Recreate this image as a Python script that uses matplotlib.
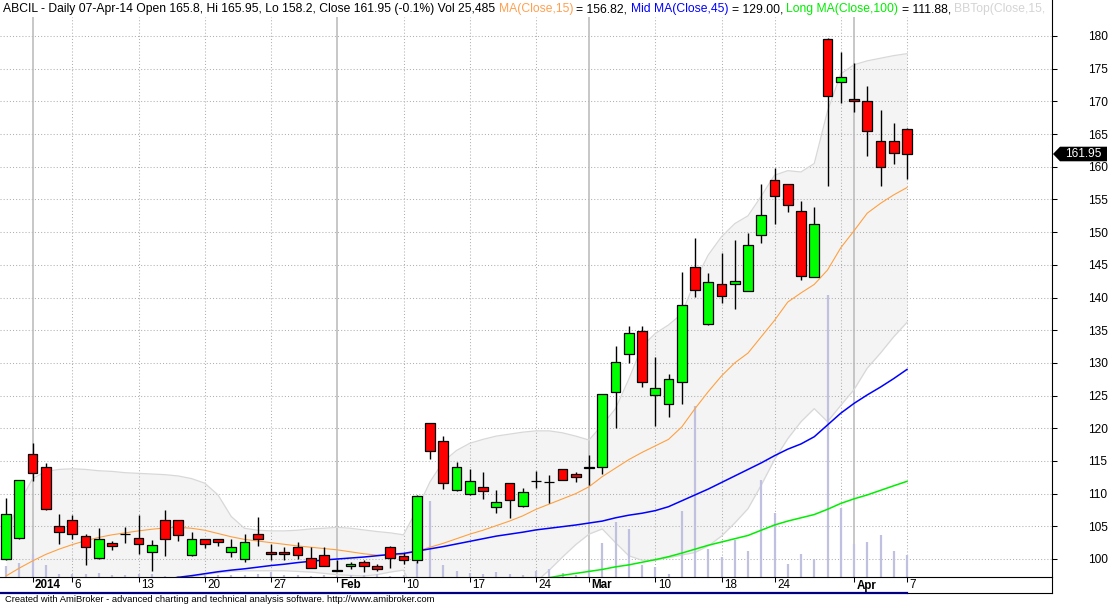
import matplotlib
matplotlib.use('Agg')
import matplotlib.pyplot as plt
import matplotlib.transforms as mtransforms
from matplotlib.patches import Polygon, Rectangle
from matplotlib.lines import Line2D
import numpy as np

plt.rcParams['font.family'] = ['Liberation Sans', 'DejaVu Sans']

# ---------------- data ----------------
dates = ['2013-12-30', '2013-12-31', '2014-01-01', '2014-01-02', '2014-01-03',
         '2014-01-06', '2014-01-07', '2014-01-08', '2014-01-09', '2014-01-10',
         '2014-01-13', '2014-01-14', '2014-01-15', '2014-01-16', '2014-01-17',
         '2014-01-20', '2014-01-21', '2014-01-22', '2014-01-23', '2014-01-24',
         '2014-01-27', '2014-01-28', '2014-01-29', '2014-01-30', '2014-01-31',
         '2014-02-03', '2014-02-04', '2014-02-05', '2014-02-06', '2014-02-07',
         '2014-02-10', '2014-02-11', '2014-02-12', '2014-02-13', '2014-02-14',
         '2014-02-17', '2014-02-18', '2014-02-19', '2014-02-20', '2014-02-21',
         '2014-02-24', '2014-02-25', '2014-02-26', '2014-02-28',
         '2014-03-03', '2014-03-04', '2014-03-05', '2014-03-06', '2014-03-07',
         '2014-03-10', '2014-03-11', '2014-03-12', '2014-03-13', '2014-03-14',
         '2014-03-18', '2014-03-19', '2014-03-20', '2014-03-21',
         '2014-03-24', '2014-03-25', '2014-03-26', '2014-03-27', '2014-03-28',
         '2014-03-31', '2014-04-01', '2014-04-02', '2014-04-03', '2014-04-04',
         '2014-04-07']

opens = [100.0, 103.2, 116.05, 114.05, 105.05, 105.95, 103.45, 100.1, 102.4, 103.9,
         103.2, 101.0, 105.9, 105.9, 100.55, 103.0, 103.0, 101.0, 99.95, 103.9,
         101.0, 101.0, 101.9, 100.1, 100.55, 98.25, 98.93, 99.5, 98.93, 101.9,
         100.4, 99.8, 120.75, 118.0, 110.5, 109.9, 110.95, 107.9, 111.55, 108.05,
         111.9, 111.75, 113.7, 112.95, 114.0, 114.0, 125.5, 131.3, 134.95, 125.1,
         123.65, 127.0, 144.6, 135.9, 142.0, 142.0, 141.05, 149.5, 157.9, 157.3,
         153.2, 143.2, 179.6, 172.9, 170.3, 170.0, 164.0, 163.9, 165.8]
highs = [109.3, 112.1, 117.7, 114.7, 106.9, 106.7, 103.8, 104.7, 102.8, 104.95,
         106.7, 102.9, 107.5, 105.95, 104.1, 103.05, 103.05, 103.0, 103.8, 106.4,
         102.25, 101.8, 102.6, 101.8, 101.8, 99.85, 99.6, 99.85, 99.24, 101.95,
         100.85, 109.75, 120.8, 118.8, 114.8, 113.8, 113.35, 110.55, 111.6, 110.85,
         113.45, 112.85, 113.75, 113.35, 115.9, 125.3, 132.55, 135.7, 135.7, 130.95,
         128.3, 143.9, 149.1, 143.8, 146.8, 148.8, 149.9, 157.3, 159.8, 157.35,
         154.7, 153.8, 179.65, 177.5, 175.8, 172.4, 168.65, 166.7, 165.95]
lows = [99.9, 103.1, 111.95, 107.55, 102.3, 103.0, 99.1, 100.05, 101.4, 102.5,
        100.7, 98.1, 100.5, 102.8, 100.5, 101.7, 102.0, 100.35, 99.6, 102.0,
        99.85, 99.85, 100.05, 98.6, 98.9, 98.15, 98.4, 98.05, 98.2, 98.65,
        99.25, 99.4, 115.35, 110.75, 110.45, 109.85, 109.2, 107.1, 106.2, 108.0,
        110.9, 108.6, 112.05, 111.8, 111.3, 113.0, 120.1, 130.0, 126.25, 120.4,
        121.75, 123.7, 140.1, 135.85, 139.2, 138.2, 141.0, 148.3, 151.2, 153.1,
        142.75, 143.15, 157.1, 169.8, 168.3, 161.7, 157.1, 160.4, 158.2]
closes = [106.85, 112.05, 113.1, 107.6, 104.2, 103.9, 101.8, 103.0, 102.05, 103.9,
          102.25, 102.1, 103.0, 103.6, 103.0, 102.25, 102.55, 101.9, 102.55, 103.0,
          100.7, 100.7, 100.55, 98.6, 98.9, 98.15, 99.24, 98.9, 98.4, 100.1,
          99.8, 109.7, 116.45, 111.7, 114.1, 112.0, 110.35, 108.65, 108.95, 110.2,
          111.9, 111.75, 112.1, 112.6, 113.9, 125.3, 130.2, 134.5, 127.1, 126.1,
          127.6, 138.9, 141.2, 142.3, 140.3, 142.6, 148.1, 152.55, 155.6, 154.1,
          143.3, 151.3, 170.75, 173.8, 170.0, 165.4, 159.9, 162.1, 161.95]
volumes = [12900, 16300, 26300, 13700, 3100, 3400, 3400, 4900, 2600, 2600,
           3400, 3400, 1500, 1100, 1900, 2600, 2600, 2300, 2600, 3400,
           5700, 2300, 2300, 1500, 2300, 1500, 2300, 2300, 3400, 1100,
           2300, 17500, 86900, 13700, 6900, 4900, 3400, 5700, 3400, 2300,
           6900, 9100, 4200, 2300, 9100, 39200, 63200, 54900, 13700, 11800,
           3400, 75400, 195800, 31700, 23200, 42300, 29700, 110900, 73500, 14900,
           26300, 20600, 322300, 78500, 37700, 40000, 48000, 29700, 25485]
nan = float('nan')
ma15 = [97.4, 98.6, 99.7, 100.7, 101.5, 102.2, 102.8, 103.3, 103.7, 104.0,
        104.3, 104.55, 104.75, 104.85, 104.7, 104.4, 103.9, 103.4, 103.0, 102.75,
        102.5, 102.25, 102.0, 101.8, 101.6, 101.4, 101.1, 100.8, 100.6, 100.55,
        100.7, 101.2, 101.8, 102.4, 103.1, 103.8, 104.4, 105.1, 105.8, 106.6,
        107.6, 108.4, 109.2, 110.0, 111.05, 112.6, 113.9, 115.2, 116.3, 117.3,
        118.3, 120.2, 123.0, 125.6, 128.0, 130.0, 131.5, 134.0, 136.5, 139.3,
        140.7, 142.0, 144.2, 147.6, 150.2, 152.9, 154.4, 155.7, 156.82]
ma45 = [nan] * 12 + [
        96.9, 97.2, 97.45, 97.75, 98.05, 98.3, 98.5, 98.75,
        99.0, 99.2, 99.45, 99.65, 99.85, 100.0, 100.15, 100.3, 100.5, 100.7,
        100.85, 101.2, 101.55, 101.9, 102.3, 102.7, 103.1, 103.5, 103.8, 104.1,
        104.45, 104.7, 104.95, 105.2, 105.5, 105.8, 106.3, 106.7, 107.0, 107.4,
        108.0, 108.9, 109.8, 110.7, 111.7, 112.7, 113.7, 114.7, 115.8, 116.8,
        117.6, 118.7, 120.5, 122.3, 123.8, 125.1, 126.3, 127.6, 129.0]
ma100 = [nan] * 39 + [
         96.5,
         96.8, 97.15, 97.5, 97.8, 98.1, 98.4, 98.8, 99.1, 99.5, 99.9,
         100.35, 100.9, 101.5, 102.1, 102.6, 103.1, 103.6, 104.4, 105.2, 105.8,
         106.3, 106.8, 107.6, 108.5, 109.2, 109.8, 110.5, 111.2, 111.88]
bb_top = [104.0, 108.5, 112.3, 113.4, 113.7, 113.8, 113.7, 113.5, 113.4, 113.2,
          113.1, 113.0, 112.9, 112.7, 112.3, 111.6, 109.8, 106.5, 104.7, 104.4,
          104.3, 104.3, 104.4, 104.6, 104.7, 104.85, 104.7, 104.45, 104.2, 104.0,
          103.7, 107.5, 111.8, 114.9, 116.6, 117.7, 118.3, 118.8, 119.1, 119.4,
          119.6, 119.6, 119.3, 118.8, 118.2, 120.5, 123.0, 127.5, 132.5, 134.5,
          135.8, 137.5, 142.5, 146.5, 149.3, 151.3, 152.5, 155.5, 158.7, 159.4,
          159.2, 160.5, 168.5, 174.2, 175.6, 176.2, 176.6, 177.0, 177.3]
bb_bot = [90.5, 88.5, 87.7, 88.3, 89.7, 91.2, 92.7, 93.9, 94.6, 95.4,
          95.9, 96.4, 96.8, 97.0, 97.3, 97.6, 97.9, 98.1, 98.2, 98.2,
          98.2, 98.2, 98.1, 98.0, 97.8, 97.6, 97.5, 97.4, 97.6, 98.0,
          98.3, 94.0, 91.6, 89.8, 89.4, 89.7, 90.3, 91.2, 92.3, 93.6,
          96.5, 98.3, 100.3, 102.2, 103.8, 104.6, 102.5, 100.5, 99.8, 99.8,
          100.2, 100.6, 101.0, 102.0, 103.5, 105.5, 107.7, 111.3, 115.2, 118.4,
          121.0, 123.0, 121.0, 123.5, 125.9, 129.2, 131.5, 134.0, 136.2]

tick_idx = [2, 5, 10, 15, 20, 25, 30, 35, 40, 44, 49, 54, 58, 64, 68]
tick_lbl = ['2014', '6', '13', '20', '27', 'Feb', '10', '17', '24', 'Mar', '10', '18', '24', 'Apr', '7']
week_idx = [5, 10, 15, 20, 30, 35, 40, 49, 54, 58, 63, 68]
month_idx = [2, 25, 44, 64]
month_names = {'2014', 'Feb', 'Mar', 'Apr'}
yticks = list(range(100, 181, 5))

title_segs = [
    ('ABCIL - Daily 07-Apr-14 Open 165.8, Hi 165.95, Lo 158.2, Close 161.95 (-0.1%) Vol 25,485', '#000000'),
    ('MA(Close,15)', '#ffa050'),
    ('= 156.82,', '#000000'),
    ('Mid MA(Close,45)', '#0000ff'),
    ('= 129.00,', '#000000'),
    ('Long MA(Close,100)', '#00ee00'),
    ('= 111.88,', '#000000'),
    ('BBTop(Close,15,', '#d4d4d4'),
]
footer = 'Created with AmiBroker - advanced charting and technical analysis software. http://www.amibroker.com'

# ---------------- layout ----------------
W, H, DPI = 1113, 605, 100
fig = plt.figure(figsize=(W / DPI, H / DPI), dpi=DPI)
fig.patch.set_facecolor('white')
AX_L, AX_R, AX_T, AX_B = 0, 1052, 17, 577
rect = [AX_L / W, 1 - AX_B / H, (AX_R - AX_L) / W, (AX_B - AX_T) / H]
ax_bg = fig.add_axes(rect)
ax_vol = fig.add_axes(rect)
ax = fig.add_axes(rect)

n = len(closes)
x = np.arange(n)
PXB = 13.25
XL = -6 / PXB
XR = (AX_R - 6) / PXB
PPU = 6.5375
YMIN = 100 - (AX_B - 559) / PPU
YMAX = 100 + (559 - AX_T) / PPU

for a in (ax_bg, ax_vol, ax):
    a.set_xlim(XL, XR)
ax_bg.set_ylim(YMIN, YMAX)
ax.set_ylim(YMIN, YMAX)
VOL_PER_PX = 25485 / 22.3
ax_vol.set_ylim(0, (AX_B - AX_T) * VOL_PER_PX)

ax_bg.axis('off')
ax_vol.axis('off')
ax_vol.patch.set_alpha(0)
ax.patch.set_alpha(0)

# bands
ax_bg.fill_between(x, bb_bot, bb_top, color='#f4f4f4', lw=0, zorder=1)
ax_bg.plot(x, bb_top, color='#d8d8d8', lw=0.9, zorder=3)
ax_bg.plot(x, bb_bot, color='#d8d8d8', lw=0.9, zorder=3)

# grid
for yv in yticks:
    ax_bg.axhline(yv, color='#b0b0b0', lw=0.75, ls=(0, (1, 2)), zorder=2)
for i in week_idx:
    ax_bg.axvline(i, color='#b0b0b0', lw=0.75, ls=(0, (1, 2)), zorder=2)
for i in month_idx:
    ax_bg.axvline(i, color='#b8b8b8', lw=1.1, zorder=2)

# volume
ax_vol.vlines(x, 0, volumes, color='#c0c0e0', lw=1.6)

# moving averages
ax.plot(x, ma15, color='#ffa040', lw=0.8, zorder=3)
ax.plot(x, ma45, color='#0000ff', lw=1.1, zorder=3)
ax.plot(x, ma100, color='#00ee00', lw=1.1, zorder=3)

# candles
o = np.array(opens); c = np.array(closes)
ax.vlines(x, lows, highs, color='black', lw=1.0, zorder=5)
body_col = ['#00ff00' if cc > oo else '#ff0000' for oo, cc in zip(o, c)]
ax.bar(x, np.abs(c - o), bottom=np.minimum(o, c), width=0.72, color=body_col,
       edgecolor='black', linewidth=0.9, zorder=6)

# axes styling
for s in ('left', 'top', 'right'):
    ax.spines[s].set_visible(False)
ax.spines['bottom'].set_linewidth(0.8)
ax.yaxis.tick_right()
ax.set_yticks(yticks)
ax.set_yticklabels([str(v) for v in yticks])
ax.tick_params(axis='y', direction='out', length=3.8, width=0.75, pad=22.5,
               labelsize=8.6, colors='black')
ax.set_xticks(tick_idx)
ax.set_xticklabels([''] * len(tick_idx))
ax.tick_params(axis='x', direction='out', length=3.8, width=0.75)

blend_x = mtransforms.blended_transform_factory(ax.transData, fig.transFigure)
lbl_trans = mtransforms.offset_copy(blend_x, fig=fig, x=2.5, y=0, units='dots')
for i, lab in zip(tick_idx, tick_lbl):
    ax.text(i, 1 - 588.5 / H, lab, transform=lbl_trans, ha='left', va='baseline',
            fontsize=8.4, fontweight='bold' if lab in month_names else 'normal',
            clip_on=False)

# frame lines
fig.add_artist(Line2D([AX_R / W, AX_R / W], [1.0, 1 - 593 / H], color='black',
                      lw=0.8, transform=fig.transFigure))
ax.add_line(Line2D([x[-1], XR], [1 - 592.5 / H] * 2, color='black', lw=0.8,
                   transform=blend_x, clip_on=False))
ax.add_line(Line2D([XL, x[-1]], [1 - 592.5 / H] * 2, color='#000080', lw=1.6,
                   transform=blend_x, clip_on=False))

# price tag
anchor = mtransforms.blended_transform_factory(ax.transAxes, ax.transData)
tag_trans = mtransforms.Affine2D() + mtransforms.ScaledTranslation(1.0, closes[-1], anchor)
tag = Polygon([(1, 0), (8, 7.3), (55, 7.3), (55, -7.3), (8, -7.3)], closed=True,
              facecolor='black', edgecolor='none', transform=tag_trans, zorder=20)
fig.add_artist(tag)
fig.text(31.5, 0, '%.2f' % closes[-1], transform=tag_trans, color='white',
         fontsize=8.6, ha='center', va='center', zorder=21)

# title (segments chained with measured widths)
renderer = fig.canvas.get_renderer()


def text_width(s, fs):
    t = fig.text(0, 0, s, fontsize=fs)
    w = t.get_window_extent(renderer).width
    t.remove()
    return w


tfs = 10 * 493 / text_width(title_segs[0][0], 10)
bar_w = text_width('|', tfs)
clip_rect = Rectangle((0, 0), (AX_R - 3) / W, 1, transform=fig.transFigure)
prefix = ''
for s, col in title_segs:
    xpos = 3 + (text_width(prefix + '|', tfs) - bar_w if prefix else 0)
    t = fig.text(xpos / W, 1 - 12 / H, s, color=col, fontsize=tfs, ha='left', va='baseline')
    t.set_clip_path(clip_rect)
    prefix += s + ' '

ffs = 10 * 432 / text_width(footer, 10)
fig.text(5 / W, 1 - 601.5 / H, footer, color='black', fontsize=ffs, ha='left', va='baseline')

fig.savefig('out.png', dpi=DPI, facecolor='white')
